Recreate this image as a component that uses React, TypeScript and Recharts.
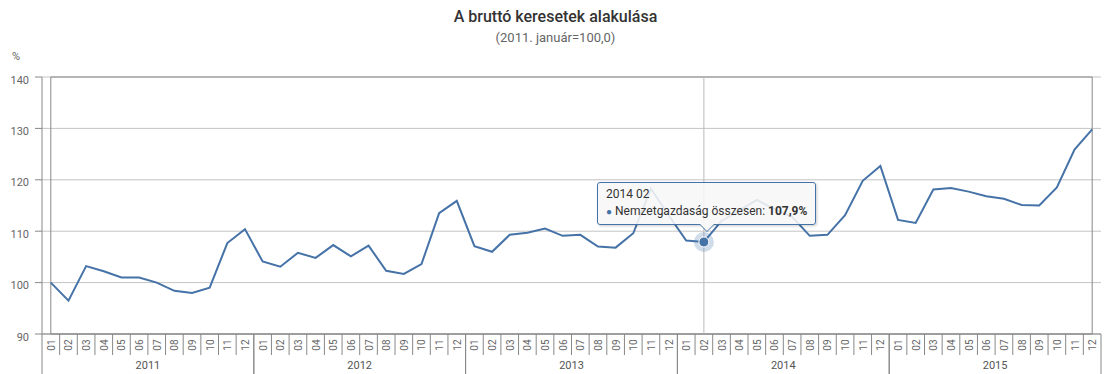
import React from "react";
import {
  CartesianGrid,
  Line,
  LineChart,
  ReferenceArea,
  Tooltip,
  XAxis,
  YAxis,
} from "recharts";

const years = ["2011", "2012", "2013", "2014", "2015"];
const months = ["01", "02", "03", "04", "05", "06", "07", "08", "09", "10", "11", "12"];
const yTicks = [90, 100, 110, 120, 130, 140];

const values2011 = [100.0, 96.5, 103.2, 102.2, 101.0, 101.0, 100.0, 98.4, 98.0, 99.0, 107.7, 110.4];
const values2012 = [104.1, 103.1, 105.8, 104.8, 107.3, 105.1, 107.2, 102.3, 101.7, 103.6, 113.5, 115.9];
const values2013 = [107.1, 106.0, 109.3, 109.7, 110.5, 109.1, 109.3, 107.0, 106.8, 109.6, 118.3, 113.1];
const values2014 = [108.2, 107.9, 112.0, 114.0, 116.1, 114.3, 112.8, 109.1, 109.3, 113.1, 119.8, 122.7];
const values2015 = [112.2, 111.6, 118.1, 118.4, 117.7, 116.8, 116.3, 115.1, 115.0, 118.5, 125.9, 129.8];

const seriesName = "Nemzetgazdaság összesen";

const data = [values2011, values2012, values2013, values2014, values2015].flatMap((vals, y) =>
  vals.map((v, m) => ({ key: `${years[y]} ${months[m]}`, value: v }))
);

const WIDTH = 1111;
const HEIGHT = 374;
const Y_AXIS_W = 42;
const RIGHT = 10;
const STEP = (WIDTH - Y_AXIS_W - RIGHT) / data.length;
const BLUE = "#4572A7";
const FONT = "Roboto, sans-serif";

const XTick = (props: any) => {
  const { x, y, index } = props;
  const m = index % 12;
  const yr = Math.floor(index / 12);
  const half = STEP / 2;
  return (
    <g>
      <text
        transform={`translate(${x + 0.5},${y + 11}) rotate(-90)`}
        textAnchor="middle"
        dominantBaseline="central"
        fontSize={10}
        fontFamily={FONT}
        fill="#666"
      >
        {months[m]}
      </text>
      <line x1={x + half} x2={x + half} y1={y} y2={m === 11 ? y + 40 : y + 21} stroke="#888" />
      {m === 0 && <line x1={x - half} x2={x - half} y1={y} y2={y + 40} stroke="#888" />}
      {m === 0 && (
        <text
          x={x + 5.5 * STEP}
          y={y + 31}
          textAnchor="middle"
          dominantBaseline="central"
          fontSize={11}
          fontFamily={FONT}
          fill="#555"
        >
          {years[yr]}
        </text>
      )}
    </g>
  );
};

const YTick = (props: any) => {
  const { x, y, payload } = props;
  return (
    <text x={x} y={y + 3} textAnchor="end" dominantBaseline="central" fontSize={11} fontFamily={FONT} fill="#666">
      {payload.value}
    </text>
  );
};

const TipBox = ({ active, payload, label }: any) => {
  if (!active || !payload || !payload.length) return null;
  const v = payload[0].value as number;
  return (
    <div
      style={{
        position: "relative",
        background: "rgba(247,247,247,0.88)",
        border: `1px solid ${BLUE}`,
        borderRadius: 3,
        padding: "3px 8px 4px 8px",
        fontFamily: FONT,
        fontSize: 12,
        color: "#333",
        lineHeight: "17px",
        whiteSpace: "nowrap",
        boxShadow: "1px 1px 3px rgba(0,0,0,0.2)",
      }}
    >
      <div>{label}</div>
      <div>
        <span style={{ color: BLUE, fontSize: 10 }}>●</span> {seriesName}:{" "}
        <b>{v.toFixed(1).replace(".", ",")}%</b>
      </div>
      <div
        style={{
          position: "absolute",
          left: "50%",
          bottom: -8,
          marginLeft: -8,
          width: 0,
          height: 0,
          borderLeft: "8px solid transparent",
          borderRight: "8px solid transparent",
          borderTop: `8px solid ${BLUE}`,
        }}
      />
      <div
        style={{
          position: "absolute",
          left: "50%",
          bottom: -7,
          marginLeft: -7,
          width: 0,
          height: 0,
          borderLeft: "7px solid transparent",
          borderRight: "7px solid transparent",
          borderTop: "7px solid rgb(247,247,247)",
        }}
      />
    </div>
  );
};

const ActiveDot = (props: any) => {
  const { cx, cy } = props;
  return (
    <g>
      <circle cx={cx} cy={cy} r={10} fill={BLUE} fillOpacity={0.25} />
      <circle cx={cx} cy={cy} r={5} fill={BLUE} stroke="#fff" strokeWidth={1} />
    </g>
  );
};

export default function App() {
  return (
    <div style={{ position: "absolute", left: 0, top: 0, width: WIDTH, height: HEIGHT, background: "#fff" }}>
      <div
        style={{
          position: "absolute",
          top: 7,
          width: WIDTH,
          textAlign: "center",
          fontFamily: FONT,
          fontSize: 16,
          fontWeight: 500,
          color: "#333",
        }}
      >
        A bruttó keresetek alakulása
      </div>
      <div
        style={{
          position: "absolute",
          top: 30,
          width: WIDTH,
          textAlign: "center",
          fontFamily: FONT,
          fontSize: 13,
          color: "#666",
        }}
      >
        (2011. január=100,0)
      </div>
      <div style={{ position: "absolute", left: 12, top: 50, fontFamily: FONT, fontSize: 11, color: "#666" }}>%</div>
      <LineChart
        width={WIDTH}
        height={HEIGHT}
        data={data}
        margin={{ top: 77, right: RIGHT, bottom: 0, left: 0 }}
      >
        <CartesianGrid vertical={false} stroke="#c4c4c4" />
        <ReferenceArea y1={90} y2={140} fill="none" stroke="#888" strokeWidth={1} />
        <XAxis
          dataKey="key"
          interval={0}
          height={40}
          tickSize={0}
          tickMargin={0}
          tickLine={false}
          axisLine={{ stroke: "#888" }}
          padding={{ left: STEP / 2, right: STEP / 2 }}
          tick={<XTick />}
        />
        <YAxis
          width={Y_AXIS_W}
          domain={[90, 140]}
          ticks={yTicks}
          tickSize={7}
          tickMargin={6}
          tickLine={{ stroke: "#888" }}
          axisLine={{ stroke: "#888" }}
          tick={<YTick />}
        />
        <Tooltip
          defaultIndex={37}
          isAnimationActive={false}
          position={{ x: 597, y: 182 }}
          cursor={{ stroke: "#bbb", strokeWidth: 1 }}
          content={<TipBox />}
        />
        <Line
          type="linear"
          dataKey="value"
          name={seriesName}
          stroke={BLUE}
          strokeWidth={2}
          dot={false}
          activeDot={<ActiveDot />}
          isAnimationActive={false}
        />
      </LineChart>
    </div>
  );
}
